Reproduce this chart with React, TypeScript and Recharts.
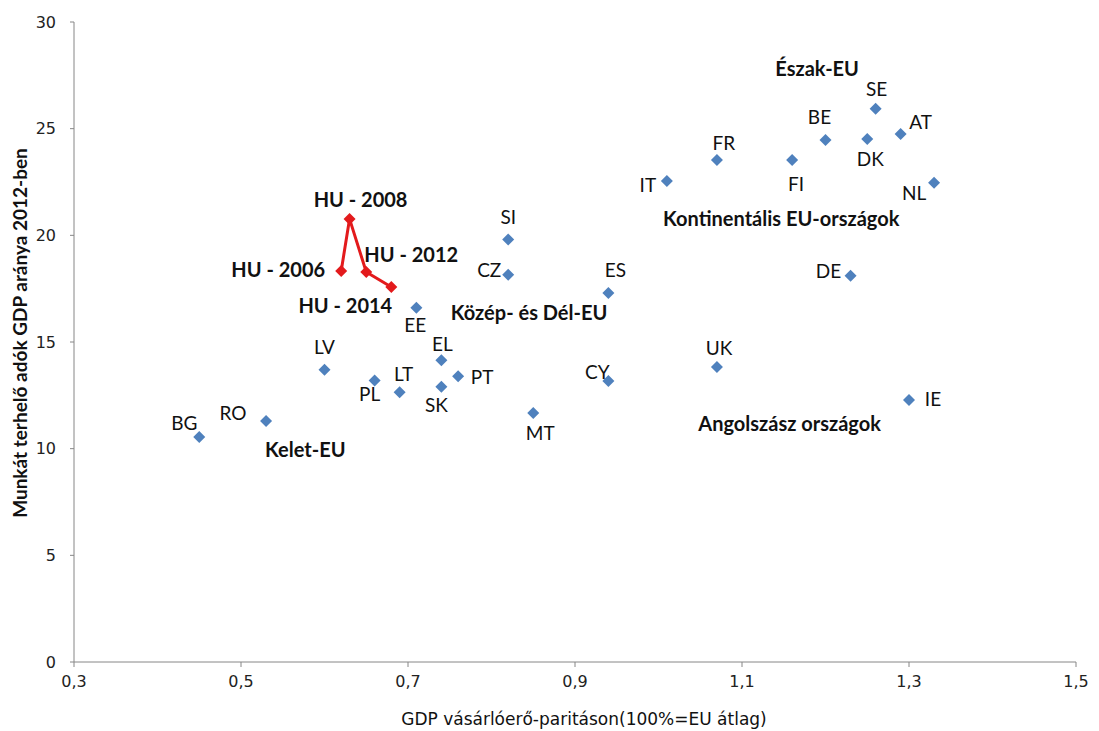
import React from "react";
import {
  ScatterChart,
  Scatter,
  XAxis,
  YAxis,
  ZAxis,
} from "recharts";

// GDP per capita in PPS (EU average = 1) vs. labour taxes as % of GDP, 2012
const countries = [
  "BG", "RO", "LV", "PL", "LT", "EE", "EL", "SK", "PT", "SI", "CZ", "MT", "ES",
  "CY", "IT", "FR", "FI", "BE", "DK", "SE", "AT", "NL", "DE", "UK", "IE",
];
const gdpPps = [
  0.45, 0.53, 0.6, 0.66, 0.69, 0.71, 0.74, 0.74, 0.76, 0.82, 0.82, 0.85, 0.94,
  0.94, 1.01, 1.07, 1.16, 1.2, 1.25, 1.26, 1.29, 1.33, 1.23, 1.07, 1.3,
];
const labourTax = [
  10.55, 11.3, 13.7, 13.2, 12.65, 16.6, 14.15, 12.9, 13.4, 19.8, 18.15, 11.67,
  17.3, 13.17, 22.55, 23.53, 23.53, 24.47, 24.52, 25.93, 24.75, 22.46, 18.1,
  13.83, 12.28,
];

// Hungary over time
const huYears = ["2006", "2008", "2012", "2014"];
const huGdp = [0.62, 0.63, 0.65, 0.68];
const huTax = [18.33, 20.77, 18.28, 17.58];

// country group annotations
const groupNames = [
  "Észak-EU",
  "Kontinentális EU-országok",
  "Közép- és Dél-EU",
  "Kelet-EU",
  "Angolszász országok",
];
const groupX = [1.19, 1.147, 0.845, 0.577, 1.157];
const groupY = [27.85, 20.82, 16.4, 9.99, 11.2];

const xTicks = [0.3, 0.5, 0.7, 0.9, 1.1, 1.3, 1.5];
const yTicks = [0, 5, 10, 15, 20, 25, 30];

// label offsets in px from the marker
const labelOffset: Record<string, [number, number]> = {
  BG: [-15, -14], RO: [-33, -8], LV: [0, -23], PL: [-5, 13], LT: [4, -19],
  EE: [-1, 17], EL: [1, -17], SK: [-5, 18], PT: [24, 0], SI: [0, -23],
  CZ: [-19, -5], MT: [7, 19], ES: [7, -23], CY: [-11, -10], IT: [-19, 4],
  FR: [7, -18], FI: [4, 23], BE: [-6, -23], DK: [3, 20], SE: [1, -20],
  AT: [20, -13], NL: [-20, 10], DE: [-22, -5], UK: [2, -19], IE: [24, -2],
};
const huOffset: Record<string, [number, number]> = {
  "2006": [-63, -2],
  "2008": [11, -20],
  "2012": [45, -18],
  "2014": [-46, 18],
};

const countryData = countries.map((code, i) => ({
  code,
  x: gdpPps[i],
  y: labourTax[i],
}));
const huData = huYears.map((year, i) => ({ year, x: huGdp[i], y: huTax[i] }));
const groupData = groupNames.map((name, i) => ({
  name,
  x: groupX[i],
  y: groupY[i],
}));

const BLUE = "#4f81bd";
const RED = "#e31a1c";
const LABEL_FONT = "Lato, 'Open Sans', sans-serif";
const AXIS_FONT = "'DejaVu Sans', Verdana, sans-serif";

const diamond = (cx: number, cy: number, r: number) =>
  `${cx},${cy - r} ${cx + r},${cy} ${cx},${cy + r} ${cx - r},${cy}`;

const CountryShape = (props: any) => {
  const { cx, cy, payload } = props;
  const [dx, dy] = labelOffset[payload.code] ?? [0, -18];
  return (
    <g>
      <polygon points={diamond(cx, cy, 6)} fill={BLUE} />
      <text
        x={cx + dx}
        y={cy + dy}
        textAnchor="middle"
        dominantBaseline="central"
        fontFamily={LABEL_FONT}
        fontSize={19}
        fill="#111"
      >
        {payload.code}
      </text>
    </g>
  );
};

const HuShape = (props: any) => {
  const { cx, cy, payload } = props;
  const [dx, dy] = huOffset[payload.year] ?? [0, -18];
  return (
    <g>
      <polygon points={diamond(cx, cy, 6)} fill={RED} />
      <text
        x={cx + dx}
        y={cy + dy}
        textAnchor="middle"
        dominantBaseline="central"
        fontFamily={LABEL_FONT}
        fontWeight="bold"
        fontSize={20}
        fill="#111"
      >
        {`HU - ${payload.year}`}
      </text>
    </g>
  );
};

const GroupShape = (props: any) => {
  const { cx, cy, payload } = props;
  return (
    <text
      x={cx}
      y={cy}
      textAnchor="middle"
      dominantBaseline="central"
      fontFamily={LABEL_FONT}
      fontWeight="bold"
      fontSize={20}
      fill="#111"
    >
      {payload.name}
    </text>
  );
};

const fmtX = (v: number) => v.toFixed(1).replace(".", ",");

export default function App() {
  return (
    <ScatterChart
      width={1091}
      height={723}
      margin={{ top: 14, right: 23, bottom: 0, left: 0 }}
    >
      <XAxis
        type="number"
        dataKey="x"
        domain={[0.3, 1.5]}
        ticks={xTicks}
        tickFormatter={fmtX}
        stroke="#868686"
        tickSize={5}
        tickMargin={9}
        height={69}
        tick={{ fill: "#222", fontSize: 16, fontFamily: AXIS_FONT }}
        label={({ viewBox }: any) => (
          <text
            x={viewBox.x + viewBox.width / 2 + 9}
            y={viewBox.y + 57}
            textAnchor="middle"
            dominantBaseline="central"
            fontFamily={AXIS_FONT}
            fontSize={17}
            fill="#111"
          >
            GDP vásárlóerő-paritáson(100%=EU átlag)
          </text>
        )}
      />
      <YAxis
        type="number"
        dataKey="y"
        domain={[0, 30]}
        ticks={yTicks}
        stroke="#868686"
        tickSize={4}
        tickMargin={14}
        width={66}
        tick={{ fill: "#222", fontSize: 16, fontFamily: AXIS_FONT }}
        label={({ viewBox }: any) => {
          const cx = 11;
          const cy = viewBox.y + viewBox.height / 2 - 9;
          return (
            <text
              x={cx}
              y={cy}
              transform={`rotate(-90, ${cx}, ${cy})`}
              textAnchor="middle"
              dominantBaseline="central"
              fontFamily={LABEL_FONT}
              fontWeight="bold"
              fontSize={19}
              fill="#111"
            >
              Munkát terhelő adók GDP aránya 2012-ben
            </text>
          );
        }}
      />
      <ZAxis range={[60, 60]} />
      <Scatter
        data={groupData}
        shape={GroupShape}
        isAnimationActive={false}
      />
      <Scatter
        data={countryData}
        shape={CountryShape}
        isAnimationActive={false}
      />
      <Scatter
        data={huData}
        shape={HuShape}
        line={{ stroke: RED, strokeWidth: 3 }}
        lineType="joint"
        isAnimationActive={false}
      />
    </ScatterChart>
  );
}
